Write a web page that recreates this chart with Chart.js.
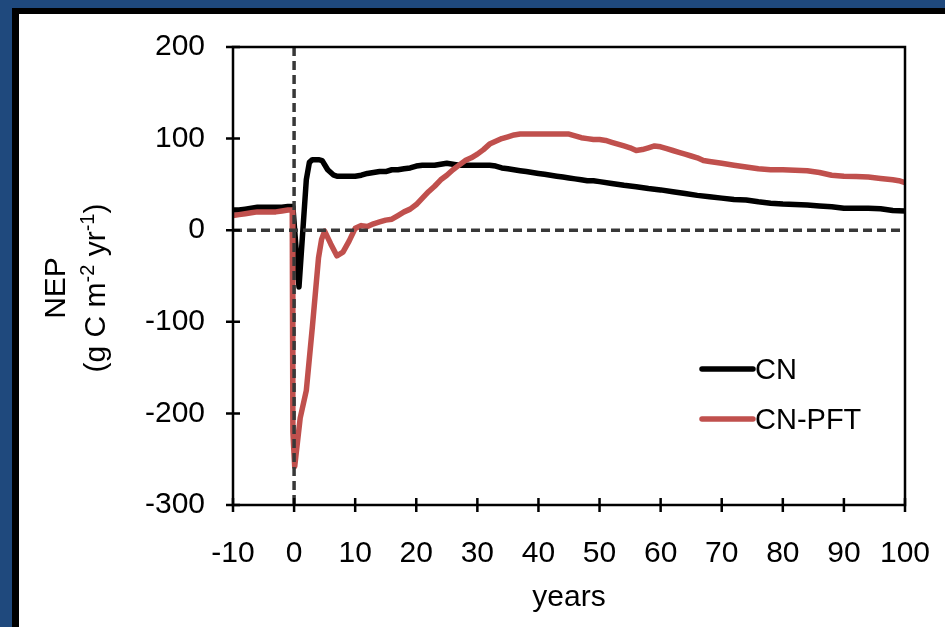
<!DOCTYPE html>
<html>
<head>
<meta charset="utf-8">
<script src="https://cdn.jsdelivr.net/npm/chart.js@4/dist/chart.umd.min.js"></script>
<style>
html, body { margin: 0; padding: 0; background: #1F497D; overflow: hidden; }
canvas { display: block; }
</style>
</head>
<body>
<canvas id="nepChart" width="945" height="627"></canvas>
<script>
// years since disturbance and NEP (g C m-2 yr-1)
const cnYears = [-10, -9, -8, -7, -6, -5, -4, -3, -2, -1, -0.2, 0.8, 2, 2.5, 3, 4, 4.6, 5.5, 6.5, 7, 8, 9, 10,
    11, 12, 13, 14, 15, 16, 17, 18, 19, 20, 21, 22, 23, 24, 25, 26, 27, 28, 29, 30, 31, 32, 33, 34, 35, 36, 37, 38,
    39, 40, 41, 42, 43, 44, 45, 46, 47, 48, 49, 50, 52, 54, 56, 58, 60, 62, 64, 66, 68, 70, 72, 74, 76, 78, 80,
    82, 84, 86, 88, 90, 92, 94, 96, 98, 100];
const cnValues = [22, 22, 23, 24, 25, 25, 25, 25, 25, 26, 26, -62, 55, 74, 77, 77, 76, 66, 60, 59, 59, 59, 59,
    60, 62, 63, 64, 64, 66, 66, 67, 68, 70, 71, 71, 71, 72, 73, 72, 71, 71, 71, 71, 71, 71, 70, 68, 67, 66, 65, 64,
    63, 62, 61, 60, 59, 58, 57, 56, 55, 54, 54, 53, 51, 49, 47.5, 45.5, 44, 42, 40, 38, 36.5, 35, 33.5, 33, 31, 29.5, 28.5,
    28, 27.5, 26.5, 25.5, 24, 24, 24, 23.5, 21.5, 21];

const pftYears = [-10, -9, -8, -7, -6, -5, -4, -3, -2, -1, -0.3, -0.2, 0.1, 1, 2, 3, 4, 4.5, 5, 6, 7, 8, 9, 10,
    11, 12, 13, 14, 15, 16, 17, 18, 19, 20, 21, 22, 23, 24, 25, 26, 27, 28, 29, 30, 31, 32, 33, 34, 35, 36, 37, 38,
    40, 42, 44, 45, 46, 47, 48, 49, 50, 51, 52, 53, 54, 55, 56, 57, 58, 59, 60, 61, 62, 63, 64, 65, 66, 67, 68,
    70, 72, 74, 76, 78, 80, 82, 84, 86, 88, 90, 92, 94, 96, 98, 99, 100];
const pftValues = [16, 17, 18, 19, 20, 20, 20, 20, 21, 22, 22, -220, -258, -205, -175, -105, -30, -10, -1, -15, -28, -24, -12, 2,
    5, 4, 7, 9, 11, 12, 16, 20, 23, 28, 35, 42, 48, 55, 60, 66, 71, 76, 79, 83, 88, 94, 97, 100, 102, 104, 105, 105,
    105, 105, 105, 105, 103, 101, 100, 99, 99, 98, 96, 94, 92, 90, 87, 88, 90, 92, 91, 89, 87, 85, 83, 81, 79, 76, 75,
    73, 71, 69, 67, 66, 66, 65.5, 65, 63, 60, 59, 58.5, 58, 56.5, 55, 54, 52];

const xTicks = [-10, 0, 10, 20, 30, 40, 50, 60, 70, 80, 90, 100];
const yTicks = [-300, -200, -100, 0, 100, 200];

const FONT = '"Liberation Sans", Arial, sans-serif';

function toPoints(xs, ys) {
    return xs.map((x, i) => ({ x: x, y: ys[i] }));
}

// blue slide background with black edge and white panel
const slideFrame = {
    id: "slideFrame",
    beforeDraw(chart) {
        const c = chart.ctx;
        c.save();
        c.fillStyle = "#1F497D";
        c.fillRect(0, 0, chart.width, chart.height);
        c.fillStyle = "#000";
        c.fillRect(12, 8, chart.width, chart.height);
        c.fillStyle = "#fff";
        c.fillRect(19, 14, chart.width, chart.height);
        c.restore();
    }
};

// zero lines, plot box and cross ticks
const axesBox = {
    id: "axesBox",
    afterDatasetsDraw(chart) {
        const { ctx, chartArea: a, scales: { x, y } } = chart;
        ctx.save();
        ctx.strokeStyle = "#383838";
        ctx.lineWidth = 3.5;
        ctx.setLineDash([9, 5]);
        ctx.beginPath();
        const y0 = y.getPixelForValue(0);
        const x0 = x.getPixelForValue(0);
        ctx.moveTo(a.left, y0);
        ctx.lineTo(a.right, y0);
        ctx.moveTo(x0, a.top);
        ctx.lineTo(x0, a.bottom);
        ctx.stroke();
        ctx.setLineDash([]);
        ctx.strokeStyle = "#000";
        ctx.lineWidth = 2.5;
        ctx.strokeRect(a.left, a.top, a.right - a.left, a.bottom - a.top);
        ctx.beginPath();
        yTicks.forEach(v => {
            const p = y.getPixelForValue(v);
            ctx.moveTo(a.left - 7, p);
            ctx.lineTo(a.left + 7, p);
        });
        xTicks.forEach(v => {
            const p = x.getPixelForValue(v);
            ctx.moveTo(p, a.bottom - 7);
            ctx.lineTo(p, a.bottom + 7);
        });
        ctx.stroke();
        ctx.restore();
    }
};

function drawRotated(ctx, cx, cy, parts, size) {
    const supSize = Math.round(size * 0.65);
    ctx.save();
    ctx.translate(cx, cy);
    ctx.rotate(-Math.PI / 2);
    ctx.textBaseline = "middle";
    ctx.textAlign = "left";
    ctx.fillStyle = "#000";
    let w = 0;
    parts.forEach(p => {
        ctx.font = (p.sup ? supSize : size) + "px " + FONT;
        w += ctx.measureText(p.t).width;
    });
    let px = -w / 2;
    parts.forEach(p => {
        ctx.font = (p.sup ? supSize : size) + "px " + FONT;
        ctx.fillText(p.t, px, p.sup ? -size * 0.3 : 0);
        px += ctx.measureText(p.t).width;
    });
    ctx.restore();
}

const yTitle = {
    id: "yTitle",
    afterDraw(chart) {
        const ctx = chart.ctx;
        drawRotated(ctx, 57, 288, [{ t: "NEP" }], 30);
        drawRotated(ctx, 97, 288, [
            { t: "(g C m" }, { t: "-2", sup: true }, { t: " yr" }, { t: "-1", sup: true }, { t: ")" }
        ], 30);
    }
};

const innerLegend = {
    id: "innerLegend",
    afterDraw(chart) {
        const ctx = chart.ctx;
        ctx.save();
        ctx.font = "29px " + FONT;
        ctx.textBaseline = "middle";
        ctx.fillStyle = "#000";
        ctx.lineCap = "round";
        ctx.lineWidth = 5.5;
        const rows = [369, 419];
        chart.data.datasets.forEach((ds, i) => {
            ctx.strokeStyle = ds.borderColor;
            ctx.beginPath();
            ctx.moveTo(702, rows[i]);
            ctx.lineTo(753, rows[i]);
            ctx.stroke();
            ctx.fillText(ds.label, 755, rows[i] + 2);
        });
        ctx.restore();
    }
};

const ctx = document.getElementById("nepChart").getContext("2d");
window.nepChart = new Chart(ctx, {
    type: "line",
    data: {
        datasets: [{
            label: "CN",
            data: toPoints(cnYears, cnValues),
            borderColor: "#000000",
            borderWidth: 5.5,
            pointRadius: 0,
            tension: 0,
            borderJoinStyle: "round",
            borderCapStyle: "round",
            order: 2
        }, {
            label: "CN-PFT",
            data: toPoints(pftYears, pftValues),
            borderColor: "#C0504D",
            borderWidth: 5.5,
            pointRadius: 0,
            tension: 0,
            borderJoinStyle: "round",
            borderCapStyle: "round",
            order: 1
        }]
    },
    options: {
        responsive: false,
        animation: false,
        devicePixelRatio: 1,
        layout: { padding: { left: 0, top: 47, right: 40, bottom: 0 } },
        plugins: {
            legend: { display: false },
            tooltip: { enabled: false }
        },
        scales: {
            x: {
                type: "linear",
                min: -10,
                max: 100,
                afterBuildTicks: s => { s.ticks = xTicks.map(v => ({ value: v })); },
                afterFit: s => { s.height = 122; s.paddingLeft = 0; s.paddingRight = 0; },
                grid: { display: false, drawTicks: false },
                border: { display: false },
                ticks: { color: "#000", font: { family: FONT, size: 30 }, padding: 31, maxRotation: 0, autoSkip: false },
                title: { display: true, text: "years", color: "#000", font: { family: FONT, size: 30 }, padding: { top: 0, bottom: 11 } }
            },
            y: {
                type: "linear",
                min: -300,
                max: 200,
                afterBuildTicks: s => { s.ticks = yTicks.map(v => ({ value: v })); },
                afterFit: s => { s.width = 233; s.paddingTop = 0; s.paddingBottom = 0; },
                grid: { display: false, drawTicks: false },
                border: { display: false },
                ticks: { color: "#000", font: { family: FONT, size: 30 }, padding: 28 }
            }
        }
    },
    plugins: [slideFrame, axesBox, yTitle, innerLegend]
});
</script>
</body>
</html>
